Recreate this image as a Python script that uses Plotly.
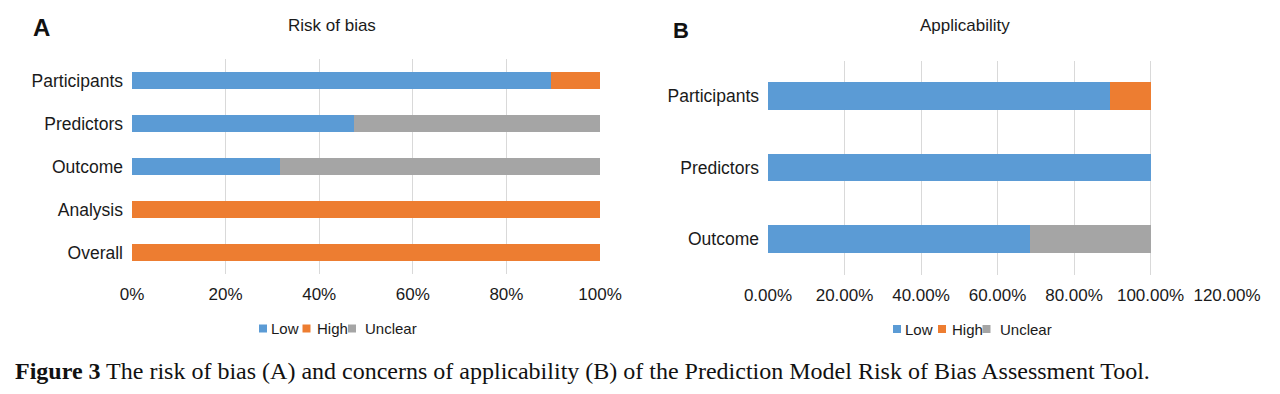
import plotly.graph_objects as go

# Panel A: Risk of bias
cats_a = ["Participants", "Predictors", "Outcome", "Analysis", "Overall"]
low_a = [0.895, 0.474, 0.316, 0.0, 0.0]
high_a = [0.105, 0.0, 0.0, 1.0, 1.0]
unclear_a = [0.0, 0.526, 0.684, 0.0, 0.0]

# Panel B: Applicability
cats_b = ["Participants", "Predictors", "Outcome"]
low_b = [0.895, 1.0, 0.684]
high_b = [0.105, 0.0, 0.0]
unclear_b = [0.0, 0.0, 0.316]

series_names = ["Low", "High", "Unclear"]
colors = ["#5B9BD5", "#ED7D31", "#A5A5A5"]

W, H = 1280, 394
FONT = "Liberation Sans, Arial, sans-serif"
TXT = "#1a1a1a"


def px(x):
    return x / W


def py(y):
    return 1 - y / H


fig = go.Figure()
for name, vals, col in zip(series_names, [low_a, high_a, unclear_a], colors):
    fig.add_trace(go.Bar(y=cats_a, x=vals, name=name, orientation="h",
                         marker=dict(color=col, line=dict(width=0)),
                         xaxis="x", yaxis="y", width=0.38, showlegend=False))
for name, vals, col in zip(series_names, [low_b, high_b, unclear_b], colors):
    fig.add_trace(go.Bar(y=cats_b, x=vals, name=name, orientation="h",
                         marker=dict(color=col, line=dict(width=0)),
                         xaxis="x2", yaxis="y2", width=0.39, showlegend=False))

grid = "#D9D9D9"
common_x = dict(showgrid=True, gridcolor=grid, gridwidth=1, zeroline=False, showline=False,
                ticks="", tickfont=dict(size=17, color=TXT), ticklabelstandoff=8,
                automargin=False, fixedrange=True)
common_y = dict(showgrid=False, zeroline=False, showline=False, ticks="",
                tickfont=dict(size=17.5, color=TXT), ticklabelstandoff=8,
                automargin=False, autorange="reversed", categoryorder="array", fixedrange=True)

fig.update_layout(
    width=W, height=H,
    margin=dict(l=0, r=0, t=0, b=0),
    paper_bgcolor="white", plot_bgcolor="white",
    barmode="stack", bargap=0,
    showlegend=False,
    font=dict(family=FONT, color=TXT),
    xaxis=dict(domain=[px(132), px(600)], range=[0, 1],
               tickvals=[0, 0.2, 0.4, 0.6, 0.8, 1.0], tickformat=".0%", anchor="y", **common_x),
    yaxis=dict(domain=[py(274), py(59)], categoryarray=cats_a, anchor="x", **common_y),
    xaxis2=dict(domain=[px(768), px(1227)], range=[0, 1.2],
                tickvals=[0, 0.2, 0.4, 0.6, 0.8, 1.0, 1.2], tickformat=".2%", anchor="y2", **common_x),
    yaxis2=dict(domain=[py(274.5), py(60.5)], categoryarray=cats_b, anchor="x2", **common_y),
)

annotations = []
shapes = []

# legend-like keys under each panel
legend_specs = [
    # (square x0, text x0)
    [(259, 268.5), (302.5, 314.5), (348, 362.5)],
    [(893, 903), (938, 949.5), (982.5, 997.5)],
]
legend_y = [328.5, 329]
for spec, ly in zip(legend_specs, legend_y):
    for (sx, tx), name, col in zip(spec, series_names, colors):
        shapes.append(dict(type="rect", xref="paper", yref="paper",
                           x0=px(sx), x1=px(sx + 8), y0=py(ly + 4), y1=py(ly - 4),
                           fillcolor=col, line=dict(width=0)))
        annotations.append(dict(text=name, x=px(tx), y=py(ly), xanchor="left", yanchor="middle",
                                font=dict(size=15, color=TXT)))

annotations += [
    dict(text="<b>A</b>", x=px(31), y=py(28), xanchor="left", yanchor="middle",
         font=dict(size=24, color="#111111")),
    dict(text="Risk of bias", x=px(332), y=py(25), xanchor="center", yanchor="middle",
         font=dict(size=17, color=TXT)),
    dict(text="<b>B</b>", x=px(671), y=py(31), xanchor="left", yanchor="middle",
         font=dict(size=22, color="#111111")),
    dict(text="Applicability", x=px(965), y=py(25), xanchor="center", yanchor="middle",
         font=dict(size=17, color=TXT)),
    dict(text="<b>Figure 3</b> The risk of bias (A) and concerns of applicability (B) of the Prediction Model Risk of Bias Assessment Tool.",
         x=px(13), y=py(371), xanchor="left", yanchor="middle",
         font=dict(size=24, family="Liberation Serif, Times New Roman, serif", color="#111111")),
]
for a in annotations:
    a.update(xref="paper", yref="paper", showarrow=False)
fig.update_layout(annotations=annotations, shapes=shapes)

# remove the browser's default 8px body margin so the figure sits at the page origin
fig.write_html("out.html", config={"displayModeBar": False, "staticPlot": True},
               post_script="document.body.style.margin='0';document.body.style.overflow='hidden';")
